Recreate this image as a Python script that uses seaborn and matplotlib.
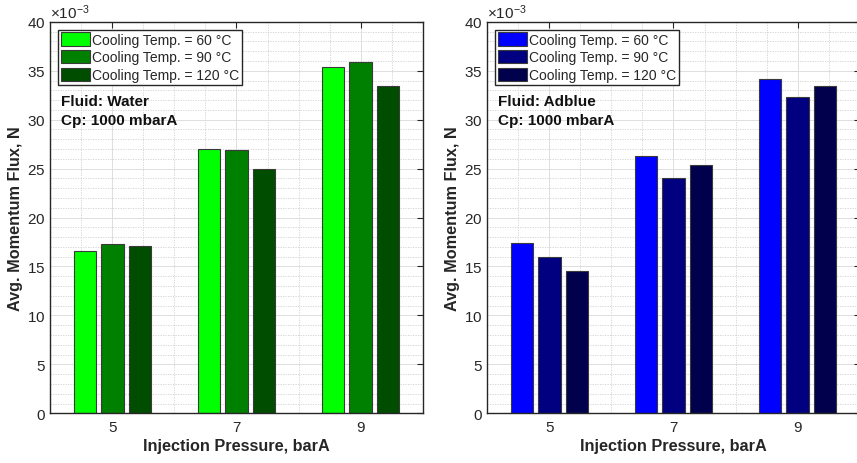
import numpy as np
import pandas as pd
import seaborn as sns
import matplotlib
matplotlib.use("Agg")
import matplotlib.pyplot as plt
from matplotlib.ticker import ScalarFormatter, MultipleLocator, FixedLocator

# Injection pressures (barA) and cooling temperatures
pressures = [5, 7, 9]
temp_labels = ["Cooling Temp. = 60 °C", "Cooling Temp. = 90 °C", "Cooling Temp. = 120 °C"]

# Average momentum flux (N), Cp = 1000 mbarA
water_60 = [16.6e-3, 27.0e-3, 35.35e-3]
water_90 = [17.25e-3, 26.95e-3, 35.9e-3]
water_120 = [17.05e-3, 25.0e-3, 33.45e-3]

adblue_60 = [17.45e-3, 26.25e-3, 34.2e-3]
adblue_90 = [16.0e-3, 24.05e-3, 32.3e-3]
adblue_120 = [14.5e-3, 25.35e-3, 33.4e-3]

green_palette = ["#00ff00", "#008000", "#004d00"]
blue_palette = ["#0000ff", "#000080", "#00004d"]


def make_frame(series):
    rows = []
    for label, vals in zip(temp_labels, series):
        for p, v in zip(pressures, vals):
            rows.append({"pressure": p, "flux": v, "temp": label})
    return pd.DataFrame(rows)


sns.set_style("white")
plt.rcParams["font.family"] = ["Liberation Sans", "DejaVu Sans"]
plt.rcParams["mathtext.fontset"] = "custom"
plt.rcParams["mathtext.rm"] = "Liberation Sans"

fig = plt.figure(figsize=(8.57, 4.64), dpi=100)
ax_w = 0.4345
ax_h = 0.8438
ax1 = fig.add_axes([0.0587, 0.1071, ax_w, ax_h])
ax2 = fig.add_axes([0.5686, 0.1071, ax_w, ax_h])

panels = [
    (ax1, make_frame([water_60, water_90, water_120]), green_palette, "Fluid: Water"),
    (ax2, make_frame([adblue_60, adblue_90, adblue_120]), blue_palette, "Fluid: Adblue"),
]

spine_col = "#262626"
for ax, df, pal, fluid in panels:
    sns.barplot(data=df, x="pressure", y="flux", hue="temp", hue_order=temp_labels,
                palette=pal, native_scale=True, width=0.665, gap=0.187,
                edgecolor="#3a3a3a", linewidth=0.8, saturation=1, ax=ax, zorder=3)
    ax.set_xlim(4, 10)
    ax.set_ylim(0, 0.04)
    ax.xaxis.set_major_locator(FixedLocator(pressures))
    ax.xaxis.set_minor_locator(MultipleLocator(0.5))
    ax.yaxis.set_major_locator(MultipleLocator(5e-3))
    ax.yaxis.set_minor_locator(MultipleLocator(1e-3))
    fmt = ScalarFormatter(useMathText=True)
    fmt.set_powerlimits((-3, -3))
    ax.yaxis.set_major_formatter(fmt)
    ax.yaxis.get_offset_text().set_fontsize(11)
    ax.yaxis.get_offset_text().set_color(spine_col)

    ax.set_axisbelow(True)
    ax.grid(which="major", color="#dedede", linewidth=0.7, linestyle="-")
    ax.grid(which="minor", color="#d0d0d0", linewidth=0.6, linestyle=(0, (1.5, 1.5)))

    ax.tick_params(which="major", direction="in", length=4, width=0.8,
                   top=True, right=True, labelsize=11, colors=spine_col)
    ax.tick_params(axis="y", which="major", pad=3.5)
    ax.tick_params(axis="x", which="major", pad=5)
    ax.tick_params(which="minor", length=0)
    for s in ax.spines.values():
        s.set_color(spine_col)
        s.set_linewidth(1.0)
        s.set_zorder(5)

    ax.set_xlabel("Injection Pressure, barA", fontsize=11.7, fontweight="bold",
                  color=spine_col, labelpad=3)
    ax.set_ylabel("Avg. Momentum Flux, N", fontsize=11.7, fontweight="bold",
                  color=spine_col, labelpad=3)

    handles, labels = ax.get_legend_handles_labels()
    leg = ax.legend(handles, labels, loc="upper left", bbox_to_anchor=(0.0215, 0.98),
                    borderaxespad=0, fontsize=10, frameon=True, fancybox=False,
                    edgecolor=spine_col, framealpha=1, handlelength=2.1,
                    handleheight=1.08, labelspacing=0.24, borderpad=0.2,
                    handletextpad=0.12)
    leg.get_frame().set_linewidth(1.0)
    leg.set_zorder(6)

    ax.text(4.17, 0.0319, fluid, fontsize=11, fontweight="bold", va="center",
            ha="left", color="#111111", zorder=6)
    ax.text(4.17, 0.0300, "Cp: 1000 mbarA", fontsize=11, fontweight="bold",
            va="center", ha="left", color="#111111", zorder=6)

fig.savefig("out.png", dpi=100)
